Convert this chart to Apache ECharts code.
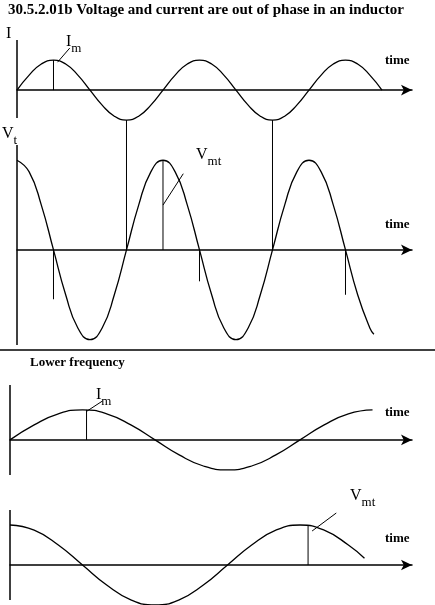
<!DOCTYPE html>
<html><head><meta charset="utf-8">
<script src="https://cdn.jsdelivr.net/npm/echarts@6/dist/echarts.min.js"></script>
<style>html,body{margin:0;padding:0;background:#fff}#c{width:435px;height:605px}</style>
</head><body><div id="c"></div>
<script>
// phase angle samples (degrees) and values
const t1 = [0,30,60,90,120,150,180,210,240,270,300,330,360,390,420,450,480,510,540,570,600,630,660,690,720,750,780,810,840,870,900];
const current1 = [0,.5,.87,1,.87,.5,0,-.5,-.87,-1,-.87,-.5,0,.5,.87,1,.87,.5,0,-.5,-.87,-1,-.87,-.5,0,.5,.87,1,.87,.5,0];
const t2 = [0,30,60,90,120,150,180,210,240,270,300,330,360,390,420,450,480,510,540,570,600,630,660,690,720,750,780,810,840,870,880];
const voltage1 = [1,.87,.5,0,-.5,-.87,-1,-.87,-.5,0,.5,.87,1,.87,.5,0,-.5,-.87,-1,-.87,-.5,0,.5,.87,1,.87,.5,0,-.5,-.87,-.94];
const t3 = [0,30,60,90,120,150,180,210,240,270,300,330,360,390,420,450];
const current2 = [0,.5,.87,1,.87,.5,0,-.5,-.87,-1,-.87,-.5,0,.5,.87,1];
const t4 = [0,30,60,90,120,150,180,210,240,270,300,330,360,390,420,440];
const voltage2 = [1,.87,.5,0,-.5,-.87,-1,-.87,-.5,0,.5,.87,1,.87,.5,.17];

const zip = (a,b)=>a.map((x,i)=>[x,b[i]]);
const ser = (g, data, w) => ({type:'line', xAxisIndex:g, yAxisIndex:g, data, symbol:'none', smooth: data.length>2, clip:false, silent:true,
  lineStyle:{color:'#000', width:w||1.3}});
const grids = [
  {left:17,width:395,top:40,height:105},
  {left:17,width:395,top:145,height:200},
  {left:10,width:402,top:385,height:90},
  {left:10,width:402,top:510,height:90}
];
const xr = [[0,974],[0,974],[0,499],[0,499]];
const yr = [[-1.83,1.67],[-1.06,1.17],[-1.17,1.83],[-0.875,1.375]];
const xAxis = grids.map((g,i)=>({type:'value',gridIndex:i,min:xr[i][0],max:xr[i][1],
  axisLine:{show:true,onZero:true,symbol:['none','arrow'],symbolSize:[8,11],lineStyle:{color:'#000',width:1.5}},
  axisTick:{show:false},axisLabel:{show:false},splitLine:{show:false}}));
const yAxis = grids.map((g,i)=>({type:'value',gridIndex:i,min:yr[i][0],max:yr[i][1],
  axisLine:{show:false},axisTick:{show:false},axisLabel:{show:false},splitLine:{show:false}}));
const series = [
  ser(0,[[0,-0.93],[0,1.67]],1.5), ser(1,[[0,-1.06],[0,1.17]],1.5),
  ser(2,[[0,-1.17],[0,1.83]],1.5), ser(3,[[0,-0.875],[0,1.375]],1.5),
  ser(0,zip(t1,current1)), ser(1,zip(t2,voltage1)),
  ser(2,zip(t3,current2)), ser(3,zip(t4,voltage2)),
  // markers
  ser(0,[[90,1],[90,0]],1), ser(0,[[100,0.93],[130,1.4]],1),
  ser(0,[[270,-1],[270,-1.83]],1), ser(1,[[270,1.17],[270,0]],1),
  ser(0,[[630,-1],[630,-1.83]],1), ser(1,[[630,1.17],[630,0]],1),
  ser(1,[[90,0],[90,-0.55]],1), ser(1,[[450,0],[450,-0.35]],1), ser(1,[[810,0],[810,-0.5]],1),
  ser(1,[[360,1],[360,0]],1), ser(1,[[360,0.5],[410,0.85]],1),
  ser(2,[[95,1],[95,0]],1), ser(2,[[95,0.95],[115,1.3]],1),
  ser(3,[[370,1],[370,0]],1), ser(3,[[375,0.85],[405,1.3]],1)
];
const txt = (x,y,s,size,bold,extra)=>({type:'text',left:x,top:y,style:Object.assign({text:s,fill:'#000',font:(bold?'bold ':'')+size+'px "Liberation Serif", serif'},extra||{})});
const rich = (x,y,main,sub)=>({type:'text',left:x,top:y,style:{text:'{a|'+main+'}{b|'+sub+'}',rich:{a:{fill:'#000',font:'16px "Liberation Serif", serif',verticalAlign:'top'},b:{fill:'#000',font:'13px "Liberation Serif", serif',padding:[8,0,0,0]}}}});
const chart = echarts.init(document.getElementById('c'));
chart.setOption({
  animation:false, grid:grids, xAxis, yAxis, series,
  graphic:[
    txt(8,3,'30.5.2.01b Voltage and current are out of phase in an inductor',15,true),
    txt(6,26,'I',16,false),
    rich(2,126,'V','t'),
    rich(66,34,'I','m'),
    rich(196,147,'V','mt'),
    txt(385,54,'time',13,true), txt(385,218,'time',13,true),
    {type:'line',shape:{x1:0,y1:350,x2:435,y2:350},style:{stroke:'#000',lineWidth:1.5}},
    txt(30,356,'Lower frequency',13,true),
    rich(96,387,'I','m'),
    txt(385,406,'time',13,true),
    rich(350,488,'V','mt'),
    txt(385,532,'time',13,true)
  ]
});
</script></body></html>
